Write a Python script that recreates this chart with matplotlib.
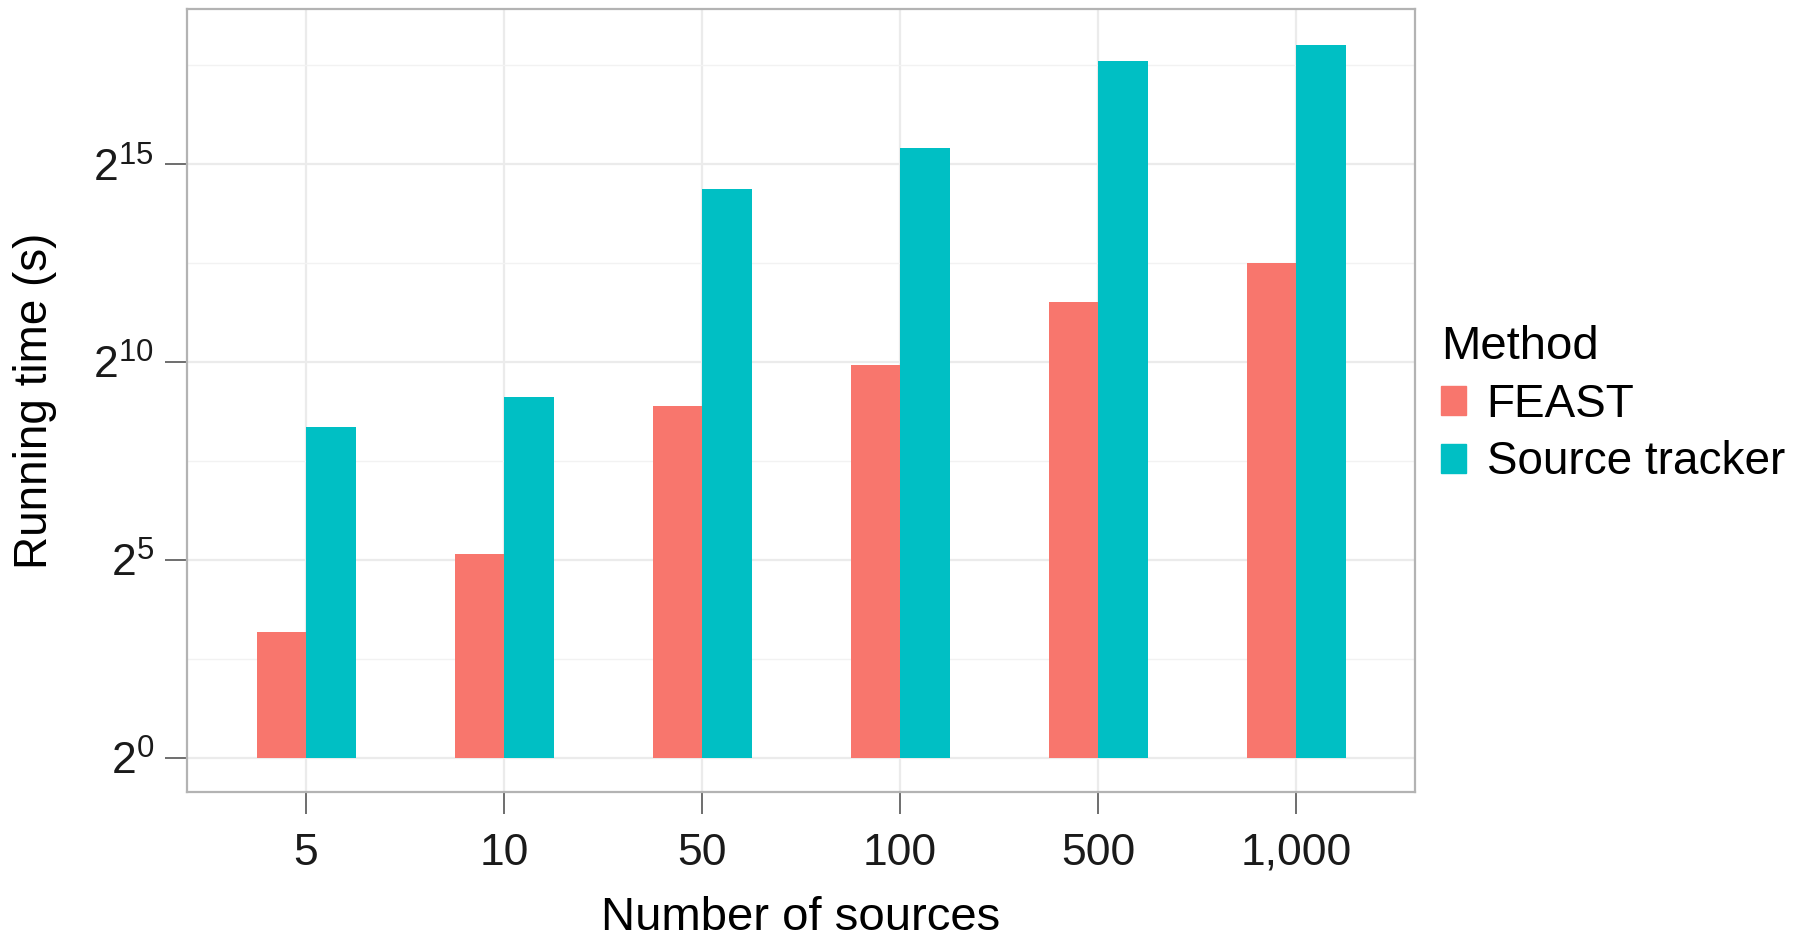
import numpy as np
import matplotlib
matplotlib.use("Agg")
import matplotlib.pyplot as plt
from matplotlib.patches import Patch
from matplotlib.ticker import NullFormatter

plt.rcParams['font.family'] = ['Liberation Sans', 'DejaVu Sans']
plt.rcParams['mathtext.fontset'] = 'custom'
plt.rcParams['mathtext.rm'] = 'Liberation Sans'
plt.rcParams['mathtext.it'] = 'Liberation Sans'

# running time in seconds
sources = ["5", "10", "50", "100", "500", "1,000"]
feast = [9.1, 35.8, 471, 969, 2937, 5793]
source_tracker = [329, 553, 21030, 43240, 200000, 265800]
methods = ["FEAST", "Source tracker"]
colors = ["#F8766D", "#00BFC4"]

fig = plt.figure(figsize=(18, 9.41), dpi=100)
ax = fig.add_axes([0.104, 0.158, 0.682, 0.832])

x = np.arange(len(sources))
w = 0.25
ax.bar(x - w / 2, np.array(feast) - 1, w, bottom=1, color=colors[0], zorder=3)
ax.bar(x + w / 2, np.array(source_tracker) - 1, w, bottom=1, color=colors[1], zorder=3)

ax.set_yscale('log', base=2)
ax.set_ylim(2 ** -0.87, 2 ** 18.91)
ax.set_xlim(-0.6, len(sources) - 0.4)

yt = [0, 5, 10, 15]
ax.set_yticks([2.0 ** e for e in yt])
ax.set_yticklabels([r'$2^{%d}$' % e for e in yt])
ax.set_yticks([2.0 ** e for e in [2.5, 7.5, 12.5, 17.5]], minor=True)
ax.yaxis.set_minor_formatter(NullFormatter())
ax.set_xticks(x)
ax.set_xticklabels(sources)

ax.grid(True, which='major', color='#EBEBEB', lw=1.6, zorder=0)
ax.grid(True, which='minor', axis='y', color='#F2F2F2', lw=1.0, zorder=0)
ax.tick_params(which='minor', length=0)
ax.tick_params(which='major', length=16, width=1.2, color='#555555',
               labelsize=32, labelcolor='#1a1a1a')
ax.tick_params(axis='x', pad=13)
ax.tick_params(axis='y', pad=8)
for s in ax.spines.values():
    s.set_color('#B3B3B3')
    s.set_linewidth(1.6)

ax.set_xlabel("Number of sources", fontsize=34, labelpad=16)
ax.set_ylabel("Running time (s)", fontsize=33, labelpad=26)

handles = [Patch(color=c) for c in colors]
leg = fig.legend(handles, methods, title="Method", loc='center left',
                 bbox_to_anchor=(0.8005, 0.57), frameon=False, fontsize=33,
                 title_fontsize=34, handlelength=0.55, handleheight=0.6,
                 handletextpad=0.45, labelspacing=0.3, borderaxespad=0,
                 borderpad=0)
leg._legend_box.align = "left"

fig.savefig("out.png", dpi=100)
